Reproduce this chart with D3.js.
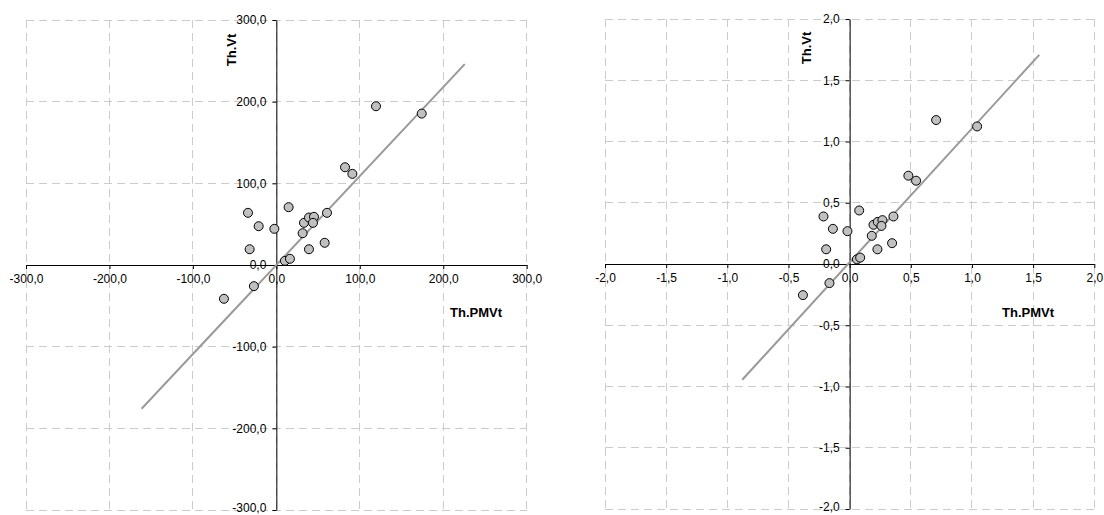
<!DOCTYPE html>
<html>
<head>
<meta charset="utf-8">
<script src="https://cdn.jsdelivr.net/npm/d3@7"></script>
<style>
  html, body { margin: 0; padding: 0; background: #fff; }
  svg { display: block; }
  text { font-family: "Liberation Sans", Arial, sans-serif; fill: #000; }
</style>
</head>
<body>
<svg id="chart" width="1104" height="515"></svg>
<script>
// ---- Data ----
const leftX = [-34.0, 14.7, -21.2, -2.4, -32.0, -26.9, -62.8, 10.3, 16.3, 31.5, 33.1, 39.1, 45.1, 43.9, 60.7, 57.9, 39.1, 82.3, 91.1, 119.4, 174.2];
const leftY = [63.9, 70.8, 47.5, 44.3, 19.3, -25.9, -41.4, 5.1, 7.6, 38.9, 51.6, 58.1, 59.0, 51.6, 63.9, 27.2, 19.3, 119.7, 111.6, 194.4, 185.4];
const leftTrendX = [-161.5, 225.8];
const leftTrendY = [-176, 246];
const leftTicks = [-300, -200, -100, 0, 100, 200, 300];

const rightX = [-0.214, 0.078, -0.137, -0.018, -0.192, -0.165, -0.382, 0.059, 0.086, 0.181, 0.195, 0.230, 0.268, 0.260, 0.358, 0.347, 0.227, 0.480, 0.543, 0.707, 1.042];
const rightY = [0.388, 0.437, 0.287, 0.268, 0.120, -0.156, -0.254, 0.038, 0.052, 0.230, 0.320, 0.344, 0.358, 0.311, 0.388, 0.170, 0.120, 0.721, 0.680, 1.175, 1.123];
const rightTrendX = [-0.878, 1.55];
const rightTrendY = [-0.945, 1.707];
const rightTicks = [-2, -1.5, -1, -0.5, 0, 0.5, 1, 1.5, 2];

const xTitle = "Th.PMVt";
const yTitle = "Th.Vt";

const fmt = v => (Math.abs(v) < 1e-9 ? 0 : v).toFixed(1).replace(".", ",");

const svg = d3.select("#chart");

function drawPanel(cfg) {
  const x = d3.scaleLinear().domain(cfg.domain).range(cfg.xRange);
  const y = d3.scaleLinear().domain(cfg.domain).range(cfg.yRange);
  const g = svg.append("g");

  // grid
  const grid = g.append("g").attr("stroke", "#cccccc").attr("stroke-width", 1)
    .attr("stroke-dasharray", "8,5").attr("fill", "none").attr("shape-rendering", "crispEdges");
  grid.selectAll("line.v").data(cfg.ticks).join("line")
    .attr("x1", d => x(d)).attr("x2", d => x(d))
    .attr("y1", cfg.yRange[1]).attr("y2", cfg.yRange[0]);
  grid.selectAll("line.h").data(cfg.ticks).join("line")
    .attr("y1", d => y(d)).attr("y2", d => y(d))
    .attr("x1", cfg.xRange[0]).attr("x2", cfg.xRange[1]);

  // axes crossing at origin
  const xAxis = d3.axisBottom(x).tickValues(cfg.ticks).tickFormat(fmt).tickSizeInner(4).tickSizeOuter(0).tickPadding(5);
  const yAxis = d3.axisLeft(y).tickValues(cfg.ticks).tickFormat(fmt).tickSizeInner(4).tickSizeOuter(0).tickPadding(6);
  const gx = g.append("g").attr("transform", `translate(0,${y(0)})`).call(xAxis);
  const gy = g.append("g").attr("transform", `translate(${x(0)},0)`).call(yAxis);
  [gx, gy].forEach(a => {
    a.select(".domain").attr("stroke", "#000").attr("stroke-width", 1);
    a.selectAll(".tick line").attr("stroke", "#000");
    a.selectAll(".tick text").attr("font-size", 12).attr("font-family", '"Liberation Sans", Arial, sans-serif').attr("fill", "#000");
  });
  // keep the lowest y label inside the picture
  gy.selectAll(".tick text").filter(d => d === cfg.domain[0]).attr("dy", "0.1em");

  // trend line
  g.append("line")
    .attr("x1", x(cfg.trendX[0])).attr("y1", y(cfg.trendY[0]))
    .attr("x2", x(cfg.trendX[1])).attr("y2", y(cfg.trendY[1]))
    .attr("stroke", "#999999").attr("stroke-width", 2);

  // points
  g.append("g").selectAll("circle").data(cfg.xs.map((v, i) => [v, cfg.ys[i]])).join("circle")
    .attr("cx", d => x(d[0])).attr("cy", d => y(d[1])).attr("r", 4.5)
    .attr("fill", "#c0c0c0").attr("stroke", "#000").attr("stroke-width", 1);

  // titles
  g.append("text").attr("x", cfg.xTitlePos[0]).attr("y", cfg.xTitlePos[1])
    .attr("text-anchor", "middle").attr("font-weight", "bold").attr("font-size", 13).text(xTitle);
  g.append("text").attr("transform", `translate(${cfg.yTitlePos[0]},${cfg.yTitlePos[1]}) rotate(-90)`)
    .attr("text-anchor", "middle").attr("font-weight", "bold").attr("font-size", 13).text(yTitle);
}

drawPanel({
  domain: [-300, 300], xRange: [26, 526.7], yRange: [510, 20],
  ticks: leftTicks, xs: leftX, ys: leftY, trendX: leftTrendX, trendY: leftTrendY,
  xTitlePos: [476, 317], yTitlePos: [236, 50]
});
drawPanel({
  domain: [-2, 2], xRange: [605, 1094.3], yRange: [509, 19],
  ticks: rightTicks, xs: rightX, ys: rightY, trendX: rightTrendX, trendY: rightTrendY,
  xTitlePos: [1028, 317], yTitlePos: [811, 48]
});
</script>
</body>
</html>
